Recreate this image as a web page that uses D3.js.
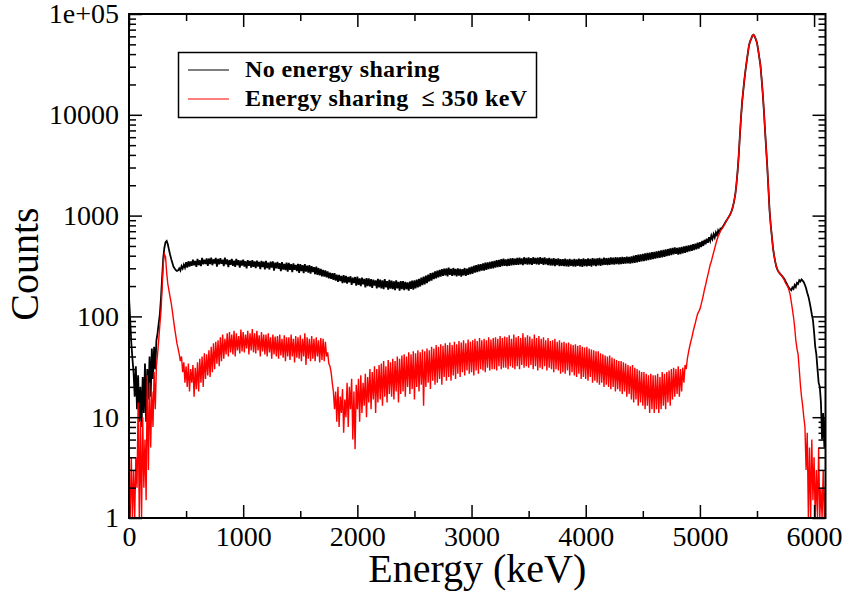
<!DOCTYPE html>
<html><head><meta charset="utf-8">
<script src="https://cdn.jsdelivr.net/npm/d3@7/dist/d3.min.js"></script>
<style>
body{margin:0;background:#fff}
svg{display:block}
text{font-family:"Liberation Serif","Times New Roman",Times,serif;fill:#000}
</style></head><body>
<svg id="chart" width="847" height="596"></svg>
<script>
// Energy channels (keV)
const energies = [
 0,10,20,30,40,50,60,70,80,90,
 100,110,120,130,140,150,160,170,180,190,
 200,210,220,230,240,250,260,270,280,290,
 300,310,320,330,340,350,360,370,380,390,
 400,410,420,430,440,450,460,470,480,490,
 500,510,520,530,540,550,560,570,580,590,
 600,610,620,630,640,650,660,670,680,690,
 700,710,720,730,740,750,760,770,780,790,
 800,810,820,830,840,850,860,870,880,890,
 900,910,920,930,940,950,960,970,980,990,
 1000,1010,1020,1030,1040,1050,1060,1070,1080,1090,
 1100,1110,1120,1130,1140,1150,1160,1170,1180,1190,
 1200,1210,1220,1230,1240,1250,1260,1270,1280,1290,
 1300,1310,1320,1330,1340,1350,1360,1370,1380,1390,
 1400,1410,1420,1430,1440,1450,1460,1470,1480,1490,
 1500,1510,1520,1530,1540,1550,1560,1570,1580,1590,
 1600,1610,1620,1630,1640,1650,1660,1670,1680,1690,
 1700,1710,1720,1730,1740,1750,1760,1770,1780,1790,
 1800,1810,1820,1830,1840,1850,1860,1870,1880,1890,
 1900,1910,1920,1930,1940,1950,1960,1970,1980,1990,
 2000,2010,2020,2030,2040,2050,2060,2070,2080,2090,
 2100,2110,2120,2130,2140,2150,2160,2170,2180,2190,
 2200,2210,2220,2230,2240,2250,2260,2270,2280,2290,
 2300,2310,2320,2330,2340,2350,2360,2370,2380,2390,
 2400,2410,2420,2430,2440,2450,2460,2470,2480,2490,
 2500,2510,2520,2530,2540,2550,2560,2570,2580,2590,
 2600,2610,2620,2630,2640,2650,2660,2670,2680,2690,
 2700,2710,2720,2730,2740,2750,2760,2770,2780,2790,
 2800,2810,2820,2830,2840,2850,2860,2870,2880,2890,
 2900,2910,2920,2930,2940,2950,2960,2970,2980,2990,
 3000,3010,3020,3030,3040,3050,3060,3070,3080,3090,
 3100,3110,3120,3130,3140,3150,3160,3170,3180,3190,
 3200,3210,3220,3230,3240,3250,3260,3270,3280,3290,
 3300,3310,3320,3330,3340,3350,3360,3370,3380,3390,
 3400,3410,3420,3430,3440,3450,3460,3470,3480,3490,
 3500,3510,3520,3530,3540,3550,3560,3570,3580,3590,
 3600,3610,3620,3630,3640,3650,3660,3670,3680,3690,
 3700,3710,3720,3730,3740,3750,3760,3770,3780,3790,
 3800,3810,3820,3830,3840,3850,3860,3870,3880,3890,
 3900,3910,3920,3930,3940,3950,3960,3970,3980,3990,
 4000,4010,4020,4030,4040,4050,4060,4070,4080,4090,
 4100,4110,4120,4130,4140,4150,4160,4170,4180,4190,
 4200,4210,4220,4230,4240,4250,4260,4270,4280,4290,
 4300,4310,4320,4330,4340,4350,4360,4370,4380,4390,
 4400,4410,4420,4430,4440,4450,4460,4470,4480,4490,
 4500,4510,4520,4530,4540,4550,4560,4570,4580,4590,
 4600,4610,4620,4630,4640,4650,4660,4670,4680,4690,
 4700,4710,4720,4730,4740,4750,4760,4770,4780,4790,
 4800,4810,4820,4830,4840,4850,4860,4870,4880,4890,
 4900,4910,4920,4930,4940,4950,4960,4970,4980,4990,
 5000,5010,5020,5030,5040,5050,5060,5070,5080,5090,
 5100,5110,5120,5130,5140,5150,5160,5170,5180,5190,
 5200,5210,5220,5230,5240,5250,5260,5270,5280,5290,
 5300,5310,5320,5330,5340,5350,5360,5370,5380,5390,
 5400,5410,5420,5430,5440,5450,5460,5470,5480,5490,
 5500,5510,5520,5530,5540,5550,5560,5570,5580,5590,
 5600,5610,5620,5630,5640,5650,5660,5670,5680,5690,
 5700,5710,5720,5730,5740,5750,5760,5770,5780,5790,
 5800,5810,5820,5830,5840,5850,5860,5870,5880,5890,
 5900,5910,5920,5930,5940,5950,5960,5970,5980,5990,
 6000,6010,6020,6030,6040,6050,6060,6070,6080,6090,
 6100
];
// Counts, no energy sharing (black)
const noSharing = [
 155,95,55,38,28,16,32,12,26,9,
 20,8,25,11,34,9,30,15,40,16,
 48,24,50,30,58,68,85,105,150,240,
 380,480,545,560,520,460,410,370,338,310,
 298,288,282,286,300,285,315,298,325,305,
 345,305,352,312,350,318,365,322,355,310,
 372,322,360,315,380,328,365,330,376,318,
 375,330,382,322,368,335,380,312,372,328,
 378,332,365,315,382,328,368,308,362,325,
 372,318,358,310,372,322,362,305,358,320,
 365,312,352,300,362,318,355,305,362,310,
 352,302,358,312,348,295,355,308,350,292,
 355,302,342,292,350,305,352,285,342,300,
 348,296,338,282,345,292,332,288,342,278,
 340,290,330,275,336,290,324,282,332,270,
 330,282,322,268,330,278,318,272,322,265,
 315,275,308,262,312,258,302,255,296,250,
 290,248,286,244,280,238,272,236,268,230,
 268,226,260,220,258,224,252,214,256,216,
 252,212,246,218,250,206,242,214,246,202,
 248,206,238,200,242,208,236,194,240,200,
 238,198,234,192,232,202,228,190,236,194,
 232,190,228,186,234,194,224,184,230,189,
 226,186,222,182,228,190,220,180,224,186,
 224,182,220,186,218,180,222,188,226,184,
 228,190,232,194,236,198,242,204,248,208,
 254,214,260,222,268,226,272,234,280,238,
 284,244,290,248,294,252,298,256,300,250,
 304,258,296,252,302,256,296,250,300,254,
 296,248,294,256,302,252,298,258,306,262,
 312,265,318,272,322,275,328,280,330,284,
 335,285,342,290,344,294,348,298,352,300,
 356,304,362,308,364,310,370,315,374,318,
 368,316,372,318,376,320,378,322,374,324,
 380,325,382,328,376,322,386,330,380,326,
 384,328,378,324,386,332,380,328,382,326,
 386,332,380,324,384,328,376,322,380,320,
 374,320,378,316,372,322,376,316,370,318,
 370,316,374,314,368,312,372,318,366,314,
 372,312,368,318,374,314,370,310,376,316,
 370,314,376,318,372,312,378,320,374,316,
 376,320,380,318,374,322,382,324,378,322,
 380,324,384,328,382,326,386,330,384,328,
 386,330,390,332,388,334,392,336,390,334,
 394,337,400,340,405,344,409,348,413,352,
 418,354,422,358,426,362,430,366,434,370,
 436,374,442,378,446,382,452,386,456,390,
 462,396,466,402,472,406,478,412,484,418,
 478,410,484,416,488,422,494,428,500,434,
 506,442,512,448,520,454,528,462,538,470,
 545,487,560,500,575,520,590,538,610,560,
 632,585,655,608,682,640,712,675,745,740,
 775,805,845,885,920,960,1000,1060,1130,1240,
 1400,1620,2050,2750,3950,6200,9400,13500,17500,22500,
 28000,34100,41000,49000,53500,57000,61000,62300,60000,56000,
 51800,44400,37200,31100,23000,16500,11200,7160,4670,3050,
 1860,1130,811,624,479,400,347,310,290,275,
 267,258,252,242,235,222,212,200,192,186,
 182,194,188,205,196,215,210,228,222,232,
 226,218,205,190,172,158,140,122,105,92,
 70,50,42,30,22,20,14,6,11,5,
 10
];
// Counts, energy sharing <= 350 keV (red)
const sharing350 = [
 2,1,4,1,3,1,4,2,14,1,
 9,1,10,2,6,1.5,26,3,22,5,
 18,8,28,12,32,42,58,82,112,190,
 330,415,390,270,210,180,155,135,112,92,
 76,64,54,48,42,36,40,28,35,22,
 32,20,34,18,30,22,33,16,31,19,
 35,18,38,22,40,20,43,24,42,26,
 46,25,50,28,54,30,56,34,58,32,
 62,36,66,38,60,42,68,40,70,44,
 66,42,72,40,68,46,64,43,74,45,
 70,44,66,48,72,42,68,46,75,44,
 68,43,72,46,65,40,70,45,66,42,
 66,40,68,44,62,38,66,42,63,40,
 64,38,66,41,60,39,65,36,62,40,
 62,37,66,40,60,35,64,39,62,38,
 65,36,60,40,68,33,62,38,60,36,
 64,38,60,36,62,40,58,35,61,37,
 60,36,56,40,44,34,32,28,22,18,
 12,18,9,20,8,16,11,19,7,15,
 10,22,8,20,12,24,6,18,4.8,21,
 12,24,9,26,11,22,13,27,10,25,
 14,30,12,28,15,32,11,30,14,33,
 15,34,13,36,16,32,14,37,17,35,
 16,38,15,36,18,40,14,38,17,41,
 18,42,16,40,20,44,17,42,19,45,
 15,43,20,46,18,44,21,47,13,45,
 20,48,22,46,19,50,23,48,21,52,
 22,50,24,53,21,51,25,54,23,52,
 25,55,23,52,26,56,24,53,27,57,
 25,55,28,58,26,54,29,59,27,56,
 28,58,26,60,29,57,27,61,30,58,
 29,60,28,58,31,62,29,59,30,61,
 30,62,29,60,32,64,30,61,31,63,
 31,62,30,65,32,60,31,66,30,62,
 32,64,30,61,33,68,31,62,32,65,
 31,63,33,60,30,66,32,61,29,64,
 31,60,30,62,32,58,29,61,31,57,
 30,58,28,60,30,56,29,58,27,55,
 28,56,27,54,29,55,26,53,28,52,
 26,53,25,51,27,52,24,50,25,49,
 24,50,23,48,25,47,22,46,23,45,
 22,45,21,43,22,42,20,41,21,40,
 20,41,19,39,20,38,18,37,19,36,
 18,36,17,35,18,34,16,33,17,32,
 15,33,14,31,15,30,13,29,14,28,
 13,28,12,27,13,26,11,27,12,26,
 11,26,12,27,11,25,12,28,13,27,
 12,28,14,29,13,30,15,31,16,30,
 17,32,16,30,18,31,22,33,30,38,
 44,50,56,62,70,78,86,96,106,112,
 118,130,145,162,185,205,232,258,290,325,
 350,390,430,475,525,575,625,665,700,735,
 760,795,835,880,920,960,1000,1060,1130,1240,
 1400,1620,2050,2750,3950,6200,9400,13500,17500,22500,
 28000,34100,41000,49000,53500,57000,61000,62300,60000,56000,
 51800,44400,37200,31100,23000,16500,11200,7160,4670,3050,
 1860,1130,811,624,479,400,347,310,290,275,
 267,258,250,240,228,215,205,198,182,165,
 140,118,98,78,58,48,42,30,21,16,
 13,10,8,3,7,1,5,1,6,1.5,
 4,1,3,1,5,1,2,1,3,1,
 2
];
const xTicks = [0,1000,2000,3000,4000,5000,6000];
const xMinorTicks = [500,1500,2500,3500,4500,5500];
const yTicks = [1,10,100,1000,10000,100000];
const yTickLabels = ["1","10","100","1000","10000","1e+05"];
const seriesNames = ["No energy sharing", "Energy sharing  \u2264 350 keV"];
const seriesColors = ["#000000", "#ff0000"];
const seriesWidths = [1.8, 1.4];

const svg = d3.select("#chart");
const L = 129, R = 825.5, T = 14, B = 518;
const x = d3.scaleLinear().domain([0, 6100]).range([L, R]);
const y = d3.scaleLog().domain([1, 1e5]).range([B, T]);

svg.append("rect").attr("width",847).attr("height",596).attr("fill","#fff");

svg.append("clipPath").attr("id","plotclip")
  .append("rect").attr("x",L).attr("y",T).attr("width",R-L).attr("height",B-T);

const n = Math.min(energies.length, noSharing.length, sharing350.length);
const series = [noSharing, sharing350].map(vals => energies.slice(0,n).map((e,i)=>({e, c: vals[i]})));
const line = d3.line().x(d=>x(d.e)).y(d=>y(Math.max(d.c, 0.5)));
const g = svg.append("g").attr("clip-path","url(#plotclip)");
series.forEach((s,k)=>{
  g.append("path").datum(s).attr("d", line).attr("fill","none")
   .attr("stroke", seriesColors[k]).attr("stroke-width",seriesWidths[k]).attr("stroke-linejoin","miter");
});

// minor y ticks (2..9 per decade)
const yMinor = [];
yTicks.slice(0,-1).forEach(d=>{ for (let k=2;k<=9;k++) yMinor.push(d*k); });

function styleAxis(sel){
  sel.select(".domain").remove();
  sel.selectAll(".tick line").attr("stroke","#000").attr("stroke-width",1.5);
  sel.selectAll(".tick text").attr("font-size",28).attr("font-family",'"Liberation Serif","Times New Roman",serif').attr("fill","#000");
}
svg.append("g").attr("transform",`translate(0,${B})`)
  .call(d3.axisBottom(x).tickValues(xTicks).tickSizeInner(-13).tickSizeOuter(0).tickPadding(8).tickFormat(d3.format("d"))).call(styleAxis);
svg.append("g").attr("transform",`translate(0,${B})`)
  .call(d3.axisBottom(x).tickValues(xMinorTicks).tickSize(-7).tickFormat("")).call(styleAxis);
svg.append("g").attr("transform",`translate(0,${T})`)
  .call(d3.axisTop(x).tickValues(xTicks).tickSize(-13).tickFormat("")).call(styleAxis);
svg.append("g").attr("transform",`translate(0,${T})`)
  .call(d3.axisTop(x).tickValues(xMinorTicks).tickSize(-7).tickFormat("")).call(styleAxis);
svg.append("g").attr("transform",`translate(${L},0)`)
  .call(d3.axisLeft(y).tickValues(yTicks).tickSizeInner(-13).tickSizeOuter(0).tickPadding(10).tickFormat((d,i)=>yTickLabels[i])).call(styleAxis);
svg.append("g").attr("transform",`translate(${L},0)`)
  .call(d3.axisLeft(y).tickValues(yMinor).tickSize(-7).tickFormat("")).call(styleAxis);
svg.append("g").attr("transform",`translate(${R},0)`)
  .call(d3.axisRight(y).tickValues(yTicks).tickSize(-13).tickFormat("")).call(styleAxis);
svg.append("g").attr("transform",`translate(${R},0)`)
  .call(d3.axisRight(y).tickValues(yMinor).tickSize(-7).tickFormat("")).call(styleAxis);

svg.append("rect").attr("x",L).attr("y",T).attr("width",R-L).attr("height",B-T)
  .attr("fill","none").attr("stroke","#000").attr("stroke-width",2);

svg.append("text").attr("x",(L+R)/2).attr("y",582).attr("text-anchor","middle")
  .attr("font-size",40).text("Energy (keV)");
svg.append("text").attr("transform","translate(38,264) rotate(-90)").attr("text-anchor","middle")
  .attr("font-size",40).text("Counts");

const lg = svg.append("g");
lg.append("rect").attr("x",178.5).attr("y",52.5).attr("width",358).attr("height",65)
  .attr("fill","#fff").attr("stroke","#000").attr("stroke-width",1.5);
const legY = [70, 99];
seriesNames.forEach((name,k)=>{
  lg.append("line").attr("x1",188).attr("x2",229).attr("y1",legY[k]).attr("y2",legY[k])
    .attr("stroke",seriesColors[k]).attr("stroke-width",1.2);
  lg.append("text").attr("x",245).attr("y",legY[k]+7).attr("font-size",24).attr("font-weight","bold")
    .attr("letter-spacing",0.4).style("white-space","pre").text(name);
});
</script>
</body></html>
